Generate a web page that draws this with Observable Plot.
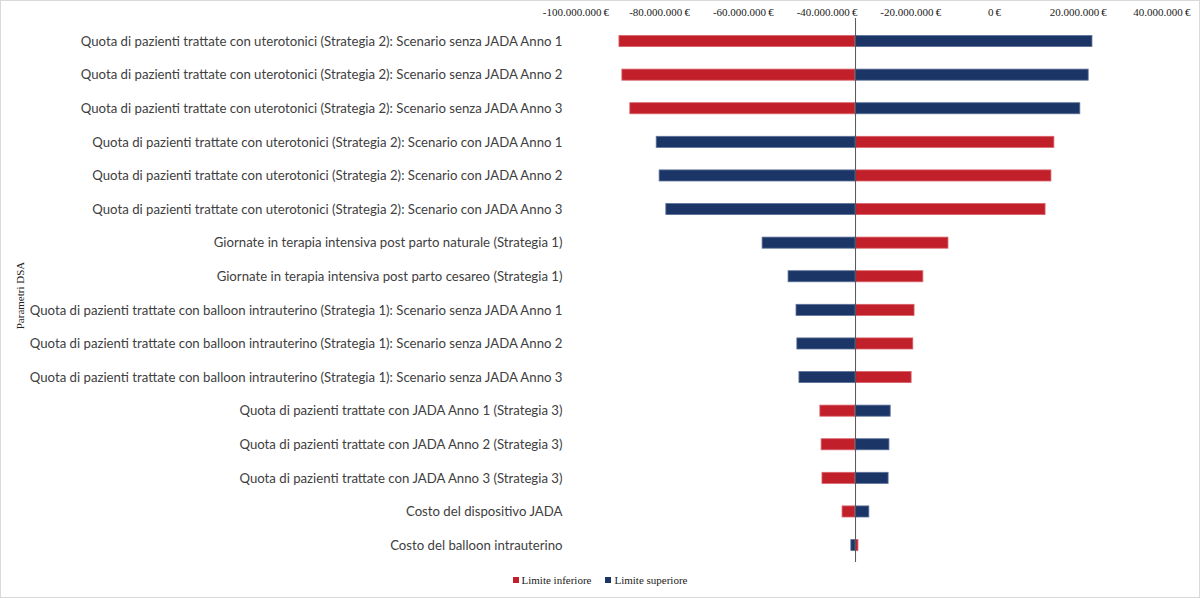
<!DOCTYPE html>
<html>
<head>
<meta charset="utf-8">
<script src="https://cdn.jsdelivr.net/npm/d3@7"></script>
<script src="https://cdn.jsdelivr.net/npm/@observablehq/plot@0.6"></script>
<style>
  html, body { margin: 0; padding: 0; background: #fff; }
  #wrap { position: relative; width: 1200px; height: 598px; overflow: hidden; }
  #border { position: absolute; left: 0; top: 0; width: 1200px; height: 598px; box-sizing: border-box; border: 1px solid #d9d9d9; pointer-events: none; }
  #legend { height: 32px; display: flex; justify-content: center; align-items: flex-start; padding-top: 8px; box-sizing: border-box;
            font-family: "Liberation Serif", "Times New Roman", serif; font-size: 11px; color: #222; }
  .item { display: flex; align-items: center; margin: 0 7px; }
  .sw { width: 6px; height: 6px; margin-right: 3px; }
</style>
</head>
<body>
<div id="wrap">
  <div id="chart"></div>
  <div id="legend"></div>
  <div id="border"></div>
</div>
<script>
const params = [
  "Quota di pazienti trattate con uterotonici (Strategia 2): Scenario senza JADA Anno 1",
  "Quota di pazienti trattate con uterotonici (Strategia 2): Scenario senza JADA Anno 2",
  "Quota di pazienti trattate con uterotonici (Strategia 2): Scenario senza JADA Anno 3",
  "Quota di pazienti trattate con uterotonici (Strategia 2): Scenario con JADA Anno 1",
  "Quota di pazienti trattate con uterotonici (Strategia 2): Scenario con JADA Anno 2",
  "Quota di pazienti trattate con uterotonici (Strategia 2): Scenario con JADA Anno 3",
  "Giornate in terapia intensiva post parto naturale (Strategia 1)",
  "Giornate in terapia intensiva post parto cesareo (Strategia 1)",
  "Quota di pazienti trattate con balloon intrauterino (Strategia 1): Scenario senza JADA Anno 1",
  "Quota di pazienti trattate con balloon intrauterino (Strategia 1): Scenario senza JADA Anno 2",
  "Quota di pazienti trattate con balloon intrauterino (Strategia 1): Scenario senza JADA Anno 3",
  "Quota di pazienti trattate con JADA Anno 1 (Strategia 3)",
  "Quota di pazienti trattate con JADA Anno 2 (Strategia 3)",
  "Quota di pazienti trattate con JADA Anno 3 (Strategia 3)",
  "Costo del dispositivo JADA",
  "Costo del balloon intrauterino"
];
// values in euro (millions)
const limiteInferiore = [-89.6, -88.9, -87.0, 14.3, 13.6, 12.2, -11.0, -17.0, -19.1, -19.4, -19.8, -41.6, -41.3, -41.1, -36.3, -32.5];
const limiteSuperiore = [23.4, 22.5, 20.5, -80.7, -80.0, -78.4, -55.4, -49.2, -47.3, -47.1, -46.6, -24.8, -25.1, -25.3, -29.9, -34.2];
const baseCase = -33.2;
const xTicks = [-100, -80, -60, -40, -20, 0, 20, 40];
const seriesNames = ["Limite inferiore", "Limite superiore"];
const seriesColors = ["#C11F29", "#1B3566"];
const seriesStrokes = ["#D9636A", "#5E7299"];

const M = 1e6;
const rows = [];
params.forEach((p, i) => {
  rows.push({param: p, series: seriesNames[0], value: limiteInferiore[i] * M});
  rows.push({param: p, series: seriesNames[1], value: limiteSuperiore[i] * M});
});

const loc = d3.formatLocale({decimal: ",", thousands: ".", grouping: [3], currency: ["", "\u2009€"], minus: "-"});
const fmt = loc.format("$,.0f");

const chart = Plot.plot({
  width: 1200,
  height: 566,
  marginLeft: 568,
  marginRight: 10,
  marginTop: 18,
  marginBottom: 4,
  style: {background: "#fff"},
  x: {domain: [-101.77 * M, 46.82 * M]},
  y: {domain: params, range: [35.5, 550.6], paddingInner: 0.67, paddingOuter: 0, align: 0.5, round: false},
  color: {domain: seriesNames, range: seriesColors},
  marks: [
    Plot.barX(rows, {
      y: "param", x1: baseCase * M, x2: "value", fill: "series",
      stroke: d => seriesStrokes[seriesNames.indexOf(d.series)], strokeWidth: 0.8
    }),
    Plot.ruleX([baseCase * M], {stroke: "#555", strokeWidth: 1}),
    Plot.axisX({
      anchor: "top", ticks: xTicks.map(t => t * M), tickFormat: fmt, tickSize: 0, tickPadding: 3,
      label: null, fontFamily: "Liberation Serif", fontSize: 11, fill: "#222"
    }),
    Plot.axisY({
      tickSize: 0, tickPadding: 6, label: null,
      fontFamily: "Lato", fontSize: 13.2, fill: "#404040"
    }),
    Plot.text(["Parametri DSA"], {
      frameAnchor: "left", textAnchor: "middle", dx: -548, dy: 5, rotate: -90,
      fontFamily: "Liberation Serif", fontSize: 11, fill: "#222"
    })
  ]
});
document.getElementById("chart").appendChild(chart);

const legend = document.getElementById("legend");
seriesNames.forEach((s, i) => {
  const it = document.createElement("div");
  it.className = "item";
  const sw = document.createElement("span");
  sw.className = "sw";
  sw.style.background = seriesColors[i];
  const tx = document.createElement("span");
  tx.textContent = s;
  it.appendChild(sw); it.appendChild(tx);
  legend.appendChild(it);
});
</script>
</body>
</html>
